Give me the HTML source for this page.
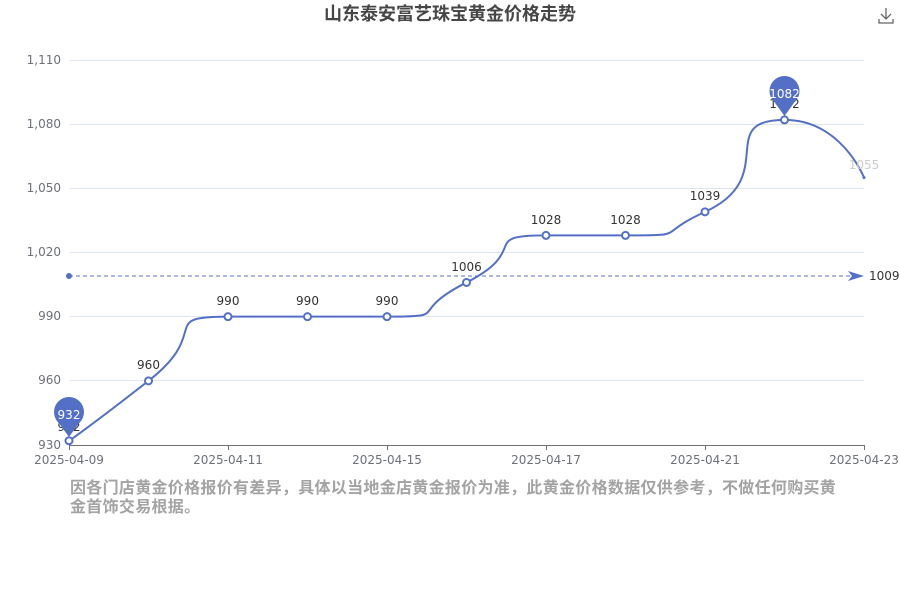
<!DOCTYPE html>
<html><head><meta charset="utf-8"><style>
html,body{margin:0;padding:0;background:#fff;width:900px;height:600px;overflow:hidden}
svg{display:block;font-family:"DejaVu Sans","Noto Sans CJK SC",sans-serif}
.foot{position:absolute;left:70px;top:479px;width:775px;font:bold 16px/19px "Liberation Sans","Noto Sans CJK SC",sans-serif;color:#a3a3a3;letter-spacing:0.3px}
</style></head><body>
<svg width="900" height="600" viewBox="0 0 900 600">
<text x="450" y="20" text-anchor="middle" font-size="18" font-weight="bold" fill="#464646" font-family="Liberation Sans,Noto Sans CJK SC,sans-serif">山东泰安富艺珠宝黄金价格走势</text>
<g stroke="#666" stroke-width="1.3" fill="none"><path d="M886 8v11M881 14l5 5 5-5M879 19v4h14v-4"/></g>
<g stroke="#e0e6f1" stroke-width="1">
<line x1="69" y1="60.5" x2="864" y2="60.5"/><line x1="69" y1="124.5" x2="864" y2="124.5"/>
<line x1="69" y1="188.5" x2="864" y2="188.5"/><line x1="69" y1="252.5" x2="864" y2="252.5"/>
<line x1="69" y1="316.5" x2="864" y2="316.5"/><line x1="69" y1="380.5" x2="864" y2="380.5"/>
</g>
<g stroke="#6e7079" stroke-width="1"><line x1="69" y1="445.5" x2="864" y2="445.5"/>
<line x1="69.5" y1="445" x2="69.5" y2="450"/><line x1="228.5" y1="445" x2="228.5" y2="450"/><line x1="387.5" y1="445" x2="387.5" y2="450"/><line x1="546.5" y1="445" x2="546.5" y2="450"/><line x1="705.5" y1="445" x2="705.5" y2="450"/><line x1="864.5" y1="445" x2="864.5" y2="450"/></g>
<g font-size="12" fill="#6e7079" text-anchor="end">
<text x="61" y="64">1,110</text><text x="61" y="128">1,080</text><text x="61" y="192">1,050</text><text x="61" y="256">1,020</text><text x="61" y="320">990</text><text x="61" y="384">960</text><text x="61" y="449">930</text></g>
<g font-size="12" fill="#6e7079" text-anchor="middle">
<text x="69" y="464">2025-04-09</text><text x="228" y="464">2025-04-11</text><text x="387" y="464">2025-04-15</text><text x="546" y="464">2025-04-17</text><text x="705" y="464">2025-04-21</text><text x="864" y="464">2025-04-23</text></g>
<path id="ln" fill="none" stroke="#5470c6" stroke-width="2"/>
<g stroke="#5470c6" stroke-dasharray="4,3" stroke-width="1"><line x1="69" y1="276" x2="852" y2="276"/></g>
<circle cx="69" cy="276" r="3" fill="#5470c6"/>
<path d="M864 276l-16-5 4 5-4 5z" fill="#5470c6"/>
<text x="869" y="280" font-size="12" fill="#333">1009</text>
<g id="pts" fill="#fff" stroke="#5470c6" stroke-width="2"></g>
<g font-size="12" fill="#333" text-anchor="middle">
<text x="69" y="431">932</text><text x="148.5" y="369">960</text><text x="228" y="305">990</text><text x="307.5" y="305">990</text><text x="387" y="305">990</text><text x="466.5" y="271">1006</text><text x="546" y="224">1028</text><text x="625.5" y="224">1028</text><text x="705" y="200">1039</text><text x="784.5" y="108">1082</text><text x="864" y="169" fill="#ccc">1055</text></g>
<g fill="#5470c6"><circle cx="69" cy="412" r="15"/><path d="M56 419L69 437 82 419z"/><circle cx="784.5" cy="91" r="15"/><path d="M771.5 98L784.5 116 797.5 98z"/></g>
<g font-size="12" fill="#fff" text-anchor="middle"><text x="69" y="419">932</text><text x="784.5" y="98">1082</text></g>
</svg>
<div class="foot">因各门店黄金价格报价有差异，具体以当地金店黄金报价为准，此黄金价格数据仅供参考，不做任何购买黄金首饰交易根据。</div>
<script>
var vals=[932,960,990,990,990,1006,1028,1028,1039,1082,1055];
var P=vals.map(function(v,i){return [69+i*79.5,445-(v-930)*385/180];});
var s=0.8,n=P.length,cps=[];
for(var i=0;i<n;i++){var x=P[i][0],y=P[i][1];
 if(i==0||i==n-1){cps.push([[x,y],[x,y]]);continue;}
 var pr=P[i-1],nx=P[i+1];var vx=nx[0]-pr[0],vy=nx[1]-pr[1];
 var lp=Math.hypot(x-pr[0],y-pr[1]),ln=Math.hypot(nx[0]-x,nx[1]-y);var r=ln/(ln+lp);
 var ox=x+vx*s*r,oy=y+vy*s*r;
 ox=Math.min(ox,Math.max(nx[0],x));ox=Math.max(ox,Math.min(nx[0],x));
 oy=Math.min(oy,Math.max(nx[1],y));oy=Math.max(oy,Math.min(nx[1],y));
 var ix=x-(ox-x)*lp/ln,iy=y-(oy-y)*lp/ln;
 var ix2=Math.min(ix,Math.max(pr[0],x));ix2=Math.max(ix2,Math.min(pr[0],x));
 var iy2=Math.min(iy,Math.max(pr[1],y));iy2=Math.max(iy2,Math.min(pr[1],y));
 if(iy2!=iy||ix2!=ix){ox=x-(ix2-x)*ln/lp;oy=y-(iy2-y)*ln/lp;}
 cps.push([[ix2,iy2],[ox,oy]]);}
var d="M"+P[0][0]+" "+P[0][1];
for(var i=1;i<n;i++){d+=" C"+cps[i-1][1].join(" ")+" "+cps[i][0].join(" ")+" "+P[i].join(" ");}
document.getElementById("ln").setAttribute("d",d);
var g=document.getElementById("pts"),h="";
for(var i=0;i<n-1;i++)h+='<circle cx="'+P[i][0]+'" cy="'+P[i][1]+'" r="3.5"/>';
g.innerHTML=h+'<circle cx="864" cy="'+P[n-1][1]+'" r="1.5" fill="#5470c6" stroke="none"/>';
</script>
</body></html>
